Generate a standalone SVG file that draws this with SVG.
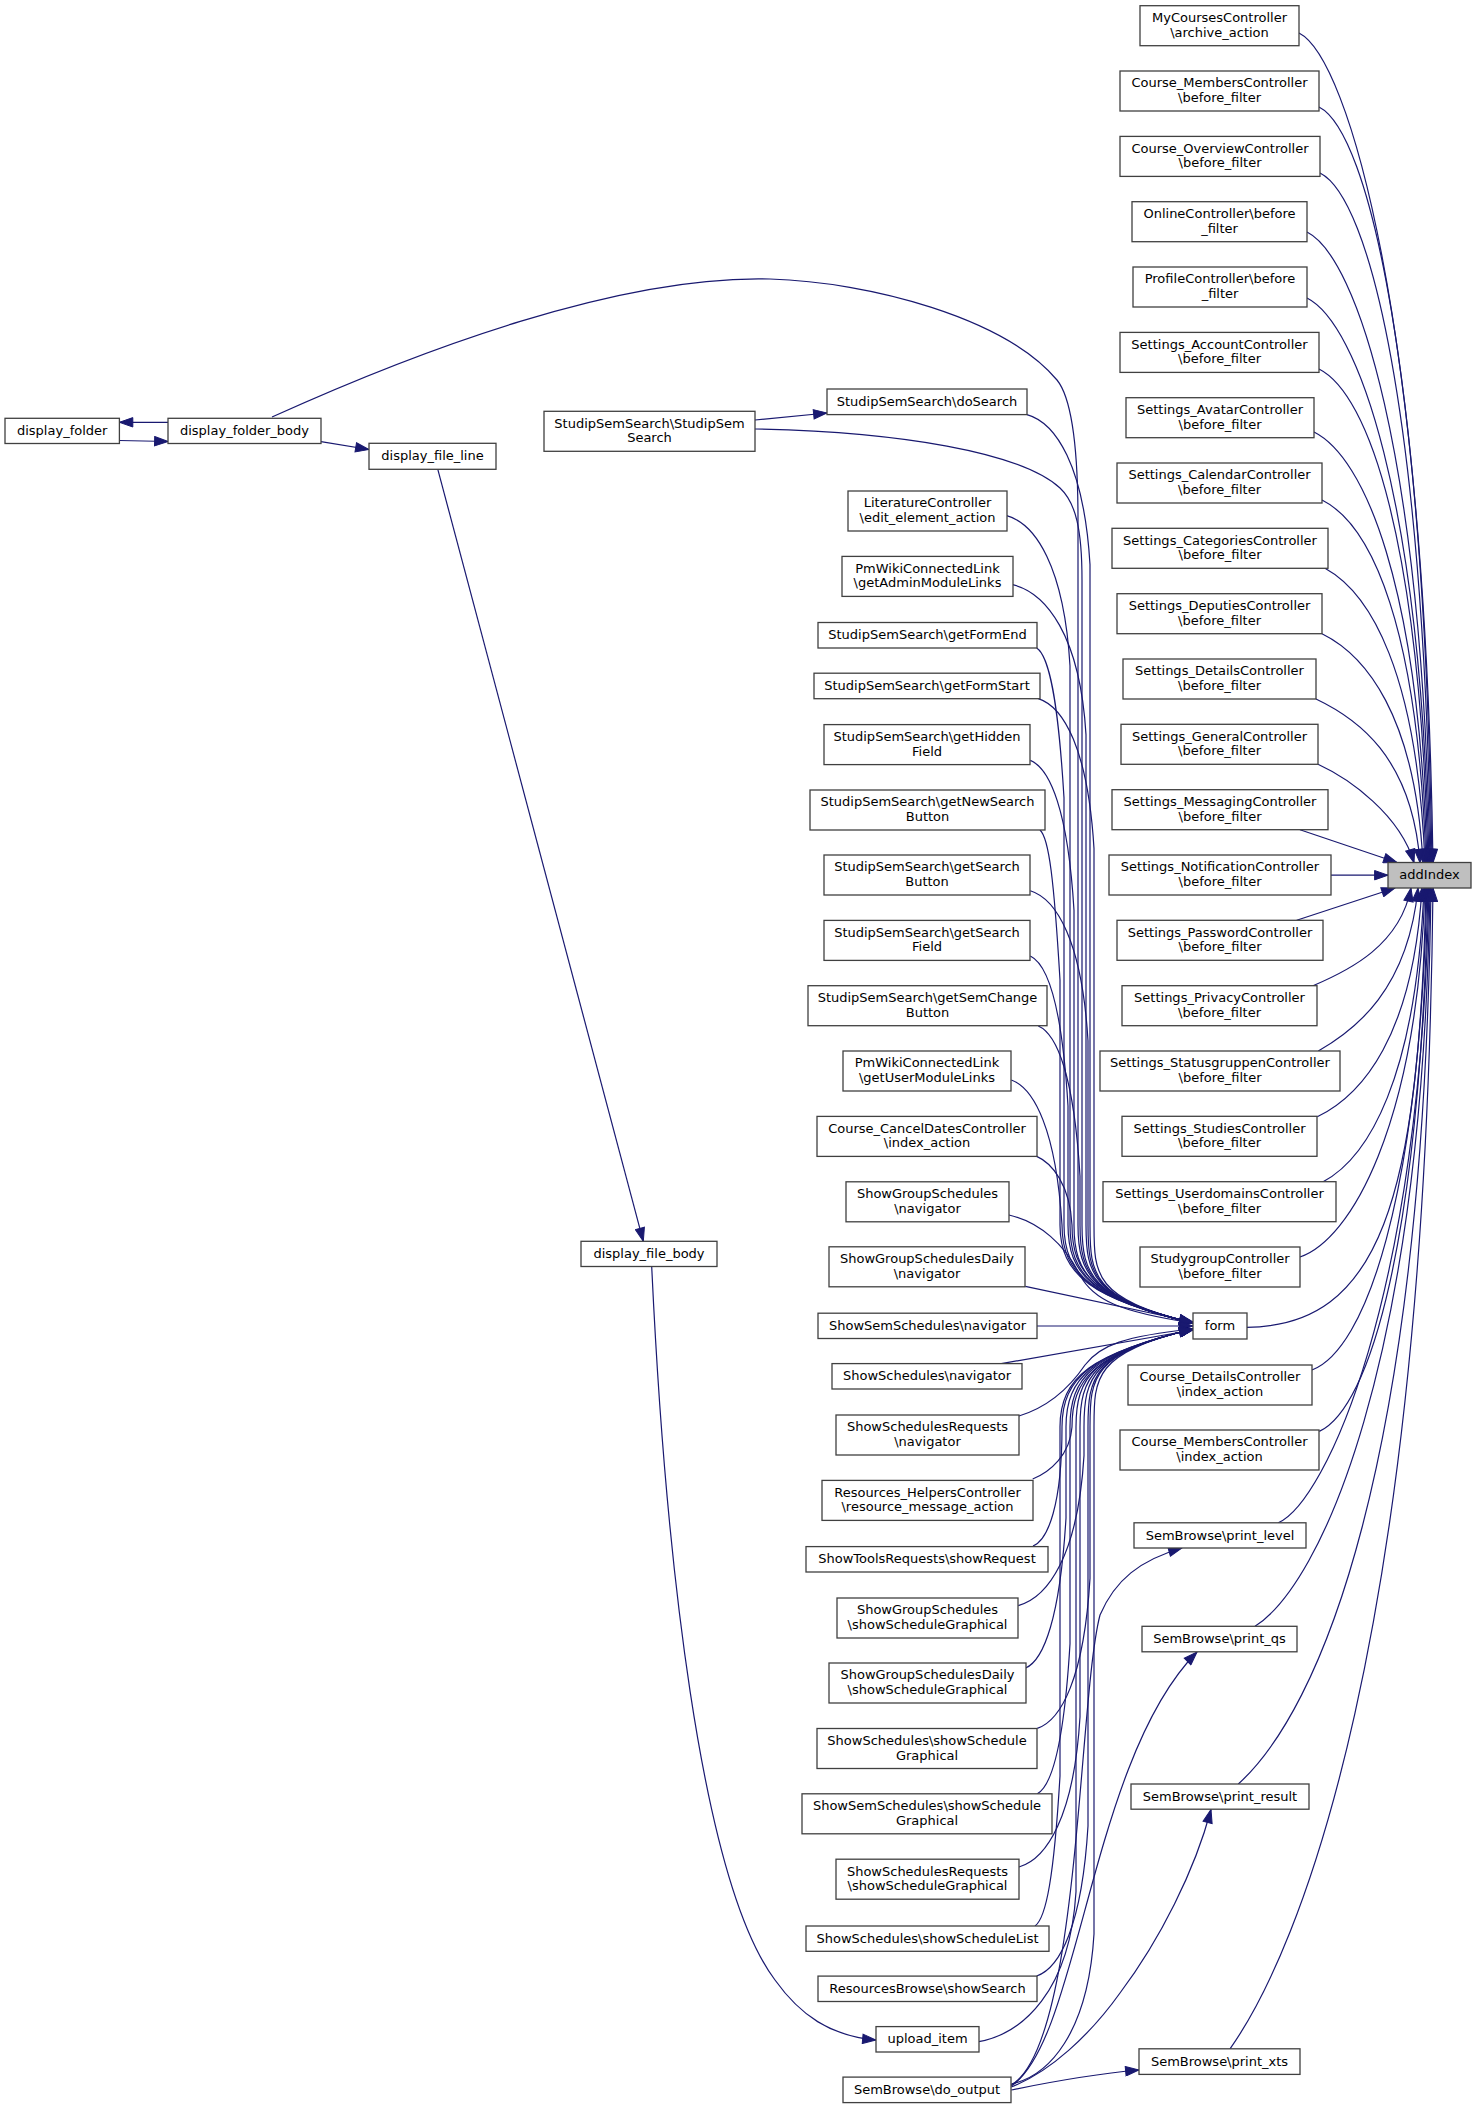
<svg xmlns="http://www.w3.org/2000/svg" width="1476" height="2109" viewBox="0 0 1476 2109">
<defs>
<style>
.node rect{fill:#ffffff;stroke:#404040;stroke-width:1.3}
.node text{font-family:"DejaVu Sans",sans-serif;font-size:13px;text-anchor:middle;fill:#000000}
#n_addIndex rect{fill:#bfbfbf}
.edges path{fill:none;stroke:#191970;stroke-width:1.2;marker-end:url(#ah)}
</style>
<marker id="ah" markerUnits="userSpaceOnUse" markerWidth="15" markerHeight="11" refX="13.4" refY="4.7" orient="auto" viewBox="-1 -1 15 11">
<path d="M0,0 L13.4,4.7 L0,9.4 Z" fill="#191970" stroke="#191970" stroke-width="1"/>
</marker>
</defs>
<rect x="0" y="0" width="1476" height="2109" fill="#ffffff"/>
<g class="edges" id="connectors">
<!-- left part -->
<path d="M168,422.3 L119.4,422.3"/>
<path d="M119.4,440.5 L168,441.5"/>
<path d="M321,441.7 L369,449.5"/>
<path d="M437.8,469.3 L643.3,1241.3"/>
<path d="M651.7,1266.5 C665,1550 700,1880 775,1980 C800,2015 830,2036 876,2040"/>
<path d="M755,420 L827,413"/>
<!-- into form, from above -->
<path d="M755,429 C900,432 1020,452 1060,488 C1076,503 1082,530 1082,580 L1082,1225 C1082,1275 1092,1299 1193,1323"/>
<path d="M272,417 C420,350 620,275 770,279 C870,282 1005,318 1057,380 C1070,396 1078,440 1078,520 L1078,1225 C1078,1275 1092,1299 1193,1323"/>
<path d="M1027,414.6 C1055.4,422.6 1084,464.6 1090,564.6 L1090,1225 C1090,1275 1092,1299 1193,1323"/>
<path d="M1006.7,515.7 C1035.2,523.7 1064,565.7 1070,665.7 L1070,1225 C1070,1275 1092,1299 1193,1323"/>
<path d="M1012.7,584.6 C1045.7,592.6 1080,634.6 1086,734.6 L1086,1225 C1086,1275 1092,1299 1193,1323"/>
<path d="M1036.7,647.9 C1049,655.9 1058,697.9 1064,797.9 L1064,1225 C1064,1275 1092,1299 1193,1323"/>
<path d="M1038.3,698.6 C1063.4,706.6 1088,748.6 1094,848.6 L1094,1225 C1094,1275 1094,1299 1193,1323"/>
<path d="M1030.3,760.4 C1050,768.4 1068,810.4 1074,910.4 L1074,1225 C1074,1275 1092,1299 1193,1323"/>
<path d="M1040,830 C1049,838 1054,880 1060,980 L1060,1225 C1060,1275 1092,1299 1193,1323"/>
<path d="M1030.3,890.7 C1056.3,898.7 1082,940.7 1088,1040.7 L1088,1225 C1088,1275 1092,1299 1193,1323"/>
<path d="M1030.3,956 C1047.3,964 1062,1006 1068,1106 L1068,1225 C1068,1275 1092,1299 1193,1323"/>
<path d="M1038.3,1026 C1057,1034 1074,1076 1080,1176 L1080,1225 C1080,1275 1092,1299 1193,1323"/>
<path d="M1011.3,1080 C1034.1,1088 1056,1130 1062,1225 C1062,1275 1092,1299 1193,1323"/>
<path d="M1036.7,1156.4 C1052,1163 1070,1185 1072,1225 C1072,1272 1092,1299 1193,1323"/>
<path d="M1009,1215 C1040,1222 1065,1245 1080,1275 C1093,1300 1120,1312 1193,1323"/>
<path d="M1025.3,1286.4 L1193,1322"/>
<path d="M1037,1326 L1193,1326"/>
<!-- into form, from below -->
<path d="M1001.3,1363.6 L1193,1330"/>
<path d="M1019,1416 C1045,1408 1068,1390 1085,1365 C1100,1345 1125,1336 1193,1329"/>
<path d="M1032.7,1479 C1050,1472 1070,1455 1072,1427 C1072,1380 1092,1353 1193,1329"/>
<path d="M1033,1546 C1048,1540 1062,1505 1062,1427 C1062,1377 1092,1353 1193,1329"/>
<path d="M1018.3,1605.6 C1047.9,1597.6 1078,1555.6 1084,1455.6 L1084,1427 C1084,1377 1092,1353 1193,1329"/>
<path d="M1025.7,1668 C1043.8,1660 1060,1618 1066,1518 L1066,1427 C1066,1377 1092,1353 1193,1329"/>
<path d="M1037.3,1728.4 C1061,1720.4 1084,1678.4 1090,1578.4 L1090,1427 C1090,1377 1092,1353 1193,1329"/>
<path d="M1037.3,1793.8 C1052,1785.8 1064,1743.8 1070,1643.8 L1070,1427 C1070,1377 1092,1353 1193,1329"/>
<path d="M1019,1867 C1046.5,1859 1074,1817 1080,1717 L1080,1427 C1080,1377 1092,1353 1193,1329"/>
<path d="M1035,1926 C1046.3,1918 1054,1876 1060,1776 L1060,1427 C1060,1377 1092,1353 1193,1329"/>
<path d="M1036.7,1976 C1059.8,1968 1082,1926 1088,1826 L1088,1427 C1088,1377 1092,1353 1193,1329"/>
<path d="M978.7,2041.7 C1022.5,2033.7 1070,1991.7 1076,1891.7 L1076,1427 C1076,1377 1092,1353 1193,1329"/>
<path d="M1011.3,2084 C1048.5,2076 1088,2034 1094,1934 L1094,1427 C1094,1377 1094,1353 1193,1329"/>
<!-- do_output to SemBrowse -->
<path d="M1011.3,2090 C1050,2082 1095,2074 1139,2070"/>
<path d="M1011.3,2087 C1050,2072 1090,2035 1120,1993 C1160,1940 1195,1870 1211,1809.5"/>
<path d="M1011.3,2086 C1080,2040 1090,1760 1197,1652"/>
<path d="M1011.3,2085 C1080,2045 1078,1700 1100,1615 C1115,1580 1140,1560 1182,1548"/>
<!-- into addIndex, from above -->
<path d="M1299,33 C1349,58 1425,323.4 1433,862.7"/>
<path d="M1319,107 C1369,132 1424,371.5 1432,862.7"/>
<path d="M1320,173 C1370,198 1423,414.4 1431,862.7"/>
<path d="M1307,232 C1357,257 1422,452.7 1430,862.7"/>
<path d="M1307,298 C1357,323 1421,495.6 1429,862.7"/>
<path d="M1319,369 C1369,394 1420,541.8 1428,862.7"/>
<path d="M1314,432 C1364,457 1419,582.7 1427,862.7"/>
<path d="M1322,500 C1372,525 1418,627 1426,862.7"/>
<path d="M1325,568.3 C1370,593 1417,671 1425,862.7"/>
<path d="M1322,633.7 C1365,655 1415,713.8 1423,862.7"/>
<path d="M1316,699 C1356,718 1412,756 1420,862.7"/>
<path d="M1318,764.3 C1350,779 1400,815 1414,862.7"/>
<path d="M1300,829.7 L1397,862.5"/>
<path d="M1331,875.2 L1388,875.2"/>
<path d="M1296.7,920.3 L1395,888"/>
<!-- into addIndex, from below -->
<path d="M1313,985.7 C1350,970 1400,945 1411,888"/>
<path d="M1318.3,1051 C1355,1030 1408,990 1418,888"/>
<path d="M1317.3,1116.8 C1362,1095 1413,1036.6 1422,888"/>
<path d="M1322.7,1182 C1368,1158 1416,1079 1424,888"/>
<path d="M1300,1257 C1350,1240 1417,1127.7 1425,888"/>
<path d="M1246.7,1327.3 C1380,1326 1419,1200 1426,888"/>
<path d="M1312,1370 C1365,1350 1419,1201 1427,888"/>
<path d="M1319.3,1431.4 C1370,1408 1420,1241 1428,888"/>
<path d="M1278.3,1522.8 C1325,1502 1421,1300 1429,888"/>
<path d="M1255,1626.3 C1320,1585 1422,1368 1430,888"/>
<path d="M1238.3,1784 C1320,1710 1423,1470 1431,888"/>
<path d="M1230,2048.8 C1300,1950 1425,1642 1433,888"/>
</g>
<g id="n_addIndex" class="node"><rect x="1388" y="862.5" width="83" height="25.5"/><text x="1429.5" y="879">addIndex</text></g>
<g id="n_r0" class="node"><rect x="1140" y="5.7" width="159" height="40"/><text x="1219.5" y="22.1">MyCoursesController<tspan x="1219.5" y="36.7">\archive_action</tspan></text></g>
<g id="n_r1" class="node"><rect x="1120" y="71" width="199" height="40"/><text x="1219.5" y="87.4">Course_MembersController<tspan x="1219.5" y="102">\before_filter</tspan></text></g>
<g id="n_r2" class="node"><rect x="1120" y="136.4" width="200" height="40"/><text x="1220" y="152.8">Course_OverviewController<tspan x="1220" y="167.4">\before_filter</tspan></text></g>
<g id="n_r3" class="node"><rect x="1132" y="201.7" width="175" height="40"/><text x="1219.5" y="218.1">OnlineController\before<tspan x="1219.5" y="232.7">_filter</tspan></text></g>
<g id="n_r4" class="node"><rect x="1133" y="267" width="174" height="40"/><text x="1220" y="283.4">ProfileController\before<tspan x="1220" y="298">_filter</tspan></text></g>
<g id="n_r5" class="node"><rect x="1120" y="332.4" width="199" height="40"/><text x="1219.5" y="348.8">Settings_AccountController<tspan x="1219.5" y="363.4">\before_filter</tspan></text></g>
<g id="n_r6" class="node"><rect x="1126" y="397.7" width="188" height="40"/><text x="1220" y="414.1">Settings_AvatarController<tspan x="1220" y="428.7">\before_filter</tspan></text></g>
<g id="n_r7" class="node"><rect x="1117" y="463" width="205" height="40"/><text x="1219.5" y="479.4">Settings_CalendarController<tspan x="1219.5" y="494">\before_filter</tspan></text></g>
<g id="n_r8" class="node"><rect x="1112" y="528.3" width="216" height="40"/><text x="1220" y="544.7">Settings_CategoriesController<tspan x="1220" y="559.3">\before_filter</tspan></text></g>
<g id="n_r9" class="node"><rect x="1117" y="593.7" width="205" height="40"/><text x="1219.5" y="610.1">Settings_DeputiesController<tspan x="1219.5" y="624.7">\before_filter</tspan></text></g>
<g id="n_r10" class="node"><rect x="1123" y="659" width="193" height="40"/><text x="1219.5" y="675.4">Settings_DetailsController<tspan x="1219.5" y="690">\before_filter</tspan></text></g>
<g id="n_r11" class="node"><rect x="1121" y="724.3" width="197" height="40"/><text x="1219.5" y="740.7">Settings_GeneralController<tspan x="1219.5" y="755.3">\before_filter</tspan></text></g>
<g id="n_r12" class="node"><rect x="1112" y="789.7" width="216" height="40"/><text x="1220" y="806.1">Settings_MessagingController<tspan x="1220" y="820.7">\before_filter</tspan></text></g>
<g id="n_r13" class="node"><rect x="1109" y="855" width="222" height="40"/><text x="1220" y="871.4">Settings_NotificationController<tspan x="1220" y="886">\before_filter</tspan></text></g>
<g id="n_r14" class="node"><rect x="1117" y="920.3" width="206" height="40"/><text x="1220" y="936.7">Settings_PasswordController<tspan x="1220" y="951.3">\before_filter</tspan></text></g>
<g id="n_r15" class="node"><rect x="1122" y="985.7" width="195" height="40"/><text x="1219.5" y="1002.1">Settings_PrivacyController<tspan x="1219.5" y="1016.7">\before_filter</tspan></text></g>
<g id="n_r16" class="node"><rect x="1100" y="1051" width="240" height="40"/><text x="1220" y="1067.4">Settings_StatusgruppenController<tspan x="1220" y="1082">\before_filter</tspan></text></g>
<g id="n_r17" class="node"><rect x="1122" y="1116.3" width="195" height="40"/><text x="1219.5" y="1132.7">Settings_StudiesController<tspan x="1219.5" y="1147.3">\before_filter</tspan></text></g>
<g id="n_r18" class="node"><rect x="1103" y="1181.7" width="233" height="40"/><text x="1219.5" y="1198.1">Settings_UserdomainsController<tspan x="1219.5" y="1212.7">\before_filter</tspan></text></g>
<g id="n_r19" class="node"><rect x="1140" y="1247" width="160" height="40"/><text x="1220" y="1263.4">StudygroupController<tspan x="1220" y="1278">\before_filter</tspan></text></g>
<g id="n_form" class="node"><rect x="1193" y="1313" width="54" height="26"/><text x="1220" y="1330">form</text></g>
<g id="n_r21" class="node"><rect x="1128" y="1365" width="184" height="40"/><text x="1220" y="1381.4">Course_DetailsController<tspan x="1220" y="1396">\index_action</tspan></text></g>
<g id="n_r22" class="node"><rect x="1120" y="1430" width="199" height="40"/><text x="1219.5" y="1446.4">Course_MembersController<tspan x="1219.5" y="1461">\index_action</tspan></text></g>
<g id="n_print_level" class="node"><rect x="1134" y="1522.8" width="172" height="25.2"/><text x="1220" y="1539.5">SemBrowse\print_level</text></g>
<g id="n_print_qs" class="node"><rect x="1142" y="1626.3" width="155" height="25.5"/><text x="1219.5" y="1643">SemBrowse\print_qs</text></g>
<g id="n_print_result" class="node"><rect x="1131" y="1784" width="178" height="25.2"/><text x="1220" y="1800.7">SemBrowse\print_result</text></g>
<g id="n_print_xts" class="node"><rect x="1139" y="2048.8" width="161" height="25.6"/><text x="1219.5" y="2065.5">SemBrowse\print_xts</text></g>
<g id="n_m0" class="node"><rect x="827" y="389" width="200" height="25.6"/><text x="927" y="405.7">StudipSemSearch\doSearch</text></g>
<g id="n_m1" class="node"><rect x="848" y="491" width="159" height="40"/><text x="927.5" y="507.4">LiteratureController<tspan x="927.5" y="522">\edit_element_action</tspan></text></g>
<g id="n_m2" class="node"><rect x="842" y="556.4" width="171" height="40"/><text x="927.5" y="572.8">PmWikiConnectedLink<tspan x="927.5" y="587.4">\getAdminModuleLinks</tspan></text></g>
<g id="n_m3" class="node"><rect x="818" y="622.5" width="219" height="25.5"/><text x="927.5" y="639.2">StudipSemSearch\getFormEnd</text></g>
<g id="n_m4" class="node"><rect x="814" y="673.2" width="226" height="25.5"/><text x="927" y="689.9">StudipSemSearch\getFormStart</text></g>
<g id="n_m5" class="node"><rect x="824" y="724.6" width="206" height="40"/><text x="927" y="741">StudipSemSearch\getHidden<tspan x="927" y="755.6">Field</tspan></text></g>
<g id="n_m6" class="node"><rect x="810" y="790" width="235" height="40"/><text x="927.5" y="806.4">StudipSemSearch\getNewSearch<tspan x="927.5" y="821">Button</tspan></text></g>
<g id="n_m7" class="node"><rect x="824" y="855" width="206" height="40"/><text x="927" y="871.4">StudipSemSearch\getSearch<tspan x="927" y="886">Button</tspan></text></g>
<g id="n_m8" class="node"><rect x="824" y="920.4" width="206" height="40"/><text x="927" y="936.8">StudipSemSearch\getSearch<tspan x="927" y="951.4">Field</tspan></text></g>
<g id="n_m9" class="node"><rect x="808" y="985.7" width="239" height="40"/><text x="927.5" y="1002.1">StudipSemSearch\getSemChange<tspan x="927.5" y="1016.7">Button</tspan></text></g>
<g id="n_m10" class="node"><rect x="843" y="1051" width="168" height="40"/><text x="927" y="1067.4">PmWikiConnectedLink<tspan x="927" y="1082">\getUserModuleLinks</tspan></text></g>
<g id="n_m11" class="node"><rect x="817" y="1116.4" width="220" height="40"/><text x="927" y="1132.8">Course_CancelDatesController<tspan x="927" y="1147.4">\index_action</tspan></text></g>
<g id="n_m12" class="node"><rect x="846" y="1181.8" width="163" height="40"/><text x="927.5" y="1198.2">ShowGroupSchedules<tspan x="927.5" y="1212.8">\navigator</tspan></text></g>
<g id="n_m13" class="node"><rect x="829" y="1246.8" width="196" height="40"/><text x="927" y="1263.2">ShowGroupSchedulesDaily<tspan x="927" y="1277.8">\navigator</tspan></text></g>
<g id="n_m14" class="node"><rect x="818" y="1313.2" width="219" height="25.3"/><text x="927.5" y="1329.8">ShowSemSchedules\navigator</text></g>
<g id="n_m15" class="node"><rect x="832" y="1363.6" width="190" height="25.4"/><text x="927" y="1380.3">ShowSchedules\navigator</text></g>
<g id="n_m16" class="node"><rect x="836" y="1415" width="183" height="40"/><text x="927.5" y="1431.4">ShowSchedulesRequests<tspan x="927.5" y="1446">\navigator</tspan></text></g>
<g id="n_m17" class="node"><rect x="822" y="1480.4" width="211" height="40"/><text x="927.5" y="1496.8">Resources_HelpersController<tspan x="927.5" y="1511.4">\resource_message_action</tspan></text></g>
<g id="n_m18" class="node"><rect x="806" y="1546.6" width="242" height="25.4"/><text x="927" y="1563.3">ShowToolsRequests\showRequest</text></g>
<g id="n_m19" class="node"><rect x="837" y="1598" width="181" height="40"/><text x="927.5" y="1614.4">ShowGroupSchedules<tspan x="927.5" y="1629">\showScheduleGraphical</tspan></text></g>
<g id="n_m20" class="node"><rect x="829" y="1663" width="197" height="40"/><text x="927.5" y="1679.4">ShowGroupSchedulesDaily<tspan x="927.5" y="1694">\showScheduleGraphical</tspan></text></g>
<g id="n_m21" class="node"><rect x="817" y="1728.5" width="220" height="40"/><text x="927" y="1744.9">ShowSchedules\showSchedule<tspan x="927" y="1759.5">Graphical</tspan></text></g>
<g id="n_m22" class="node"><rect x="802" y="1793.8" width="250" height="40"/><text x="927" y="1810.2">ShowSemSchedules\showSchedule<tspan x="927" y="1824.8">Graphical</tspan></text></g>
<g id="n_m23" class="node"><rect x="836" y="1859.2" width="183" height="40"/><text x="927.5" y="1875.6">ShowSchedulesRequests<tspan x="927.5" y="1890.2">\showScheduleGraphical</tspan></text></g>
<g id="n_m24" class="node"><rect x="806" y="1926" width="243" height="25.3"/><text x="927.5" y="1942.6">ShowSchedules\showScheduleList</text></g>
<g id="n_m25" class="node"><rect x="818" y="1976.1" width="219" height="25.4"/><text x="927.5" y="1992.8">ResourcesBrowse\showSearch</text></g>
<g id="n_upload_item" class="node"><rect x="876" y="2026.6" width="103" height="25.4"/><text x="927.5" y="2043.3">upload_item</text></g>
<g id="n_do_output" class="node"><rect x="843" y="2077.1" width="168" height="25.5"/><text x="927" y="2093.8">SemBrowse\do_output</text></g>
<g id="n_StudipSemSearch" class="node"><rect x="544" y="411.3" width="211" height="40"/><text x="649.5" y="427.7">StudipSemSearch\StudipSem<tspan x="649.5" y="442.3">Search</tspan></text></g>
<g id="n_display_file_body" class="node"><rect x="581" y="1241.3" width="136" height="25.2"/><text x="649" y="1258">display_file_body</text></g>
<g id="n_display_file_line" class="node"><rect x="369" y="443.3" width="127" height="26"/><text x="432.5" y="460.3">display_file_line</text></g>
<g id="n_display_folder_body" class="node"><rect x="168" y="418.3" width="153" height="25.2"/><text x="244.5" y="435">display_folder_body</text></g>
<g id="n_display_folder" class="node"><rect x="5" y="418.3" width="114.4" height="25.2"/><text x="62.2" y="435">display_folder</text></g>
</svg>
